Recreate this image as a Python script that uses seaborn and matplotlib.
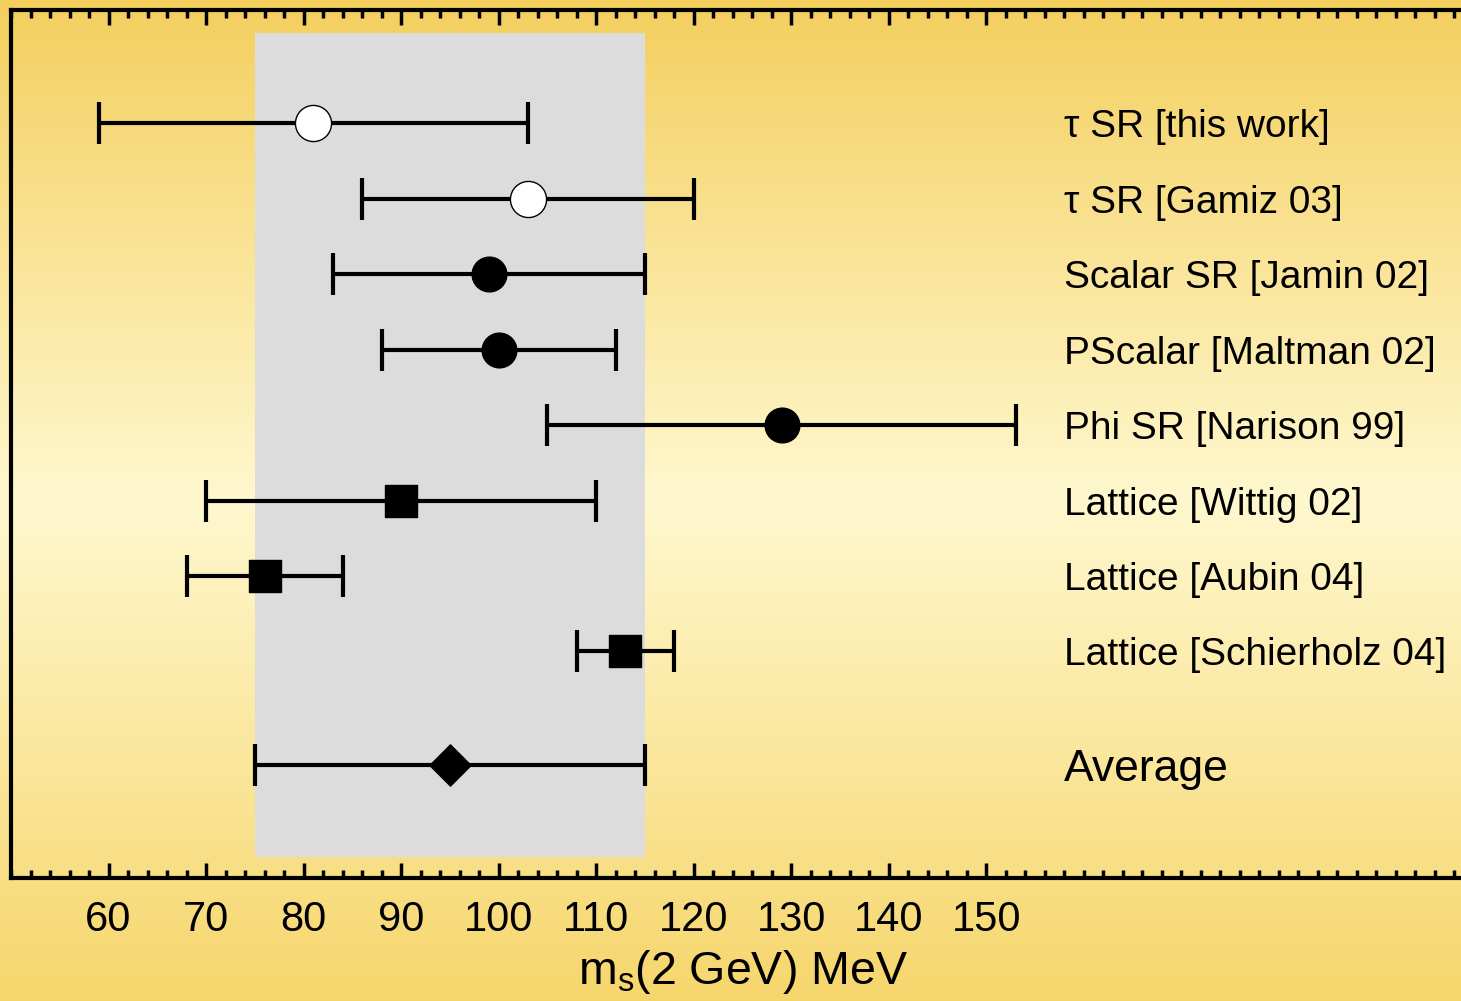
import matplotlib
matplotlib.use("Agg")
import matplotlib.pyplot as plt
import numpy as np
import pandas as pd
import seaborn as sns
from matplotlib.colors import LinearSegmentedColormap
from matplotlib.ticker import FixedLocator, MultipleLocator

# strange-quark mass determinations, ms(2 GeV) in MeV
LABELS = [
    "\u03c4 SR [this work]", "\u03c4 SR [Gamiz 03]", "Scalar SR [Jamin 02]",
    "PScalar [Maltman 02]", "Phi SR [Narison 99]", "Lattice [Wittig 02]",
    "Lattice [Aubin 04]", "Lattice [Schierholz 04]", "Average",
]
CENTRAL = [81, 103, 99, 100, 129, 90, 76, 113, 95]
LOWER = [59, 86, 83, 88, 105, 70, 68, 108, 75]
UPPER = [103, 120, 115, 112, 153, 110, 84, 118, 115]
ROW_Y = [8, 7, 6, 5, 4, 3, 2, 1, -0.5]
KIND = ["open", "open", "circle", "circle", "circle", "square", "square", "square", "diamond"]
BAND = (75, 115)
XTICKS = [60, 70, 80, 90, 100, 110, 120, 130, 140, 150]

df = pd.DataFrame({"label": LABELS, "ms": CENTRAL, "lo": LOWER, "hi": UPPER,
                   "y": ROW_Y, "kind": KIND})

sns.set_theme(style="ticks")
plt.rcParams["font.family"] = ["Liberation Sans", "DejaVu Sans"]
plt.rcParams["mathtext.fontset"] = "custom"
plt.rcParams["mathtext.rm"] = "Liberation Sans"
plt.rcParams["mathtext.it"] = "Liberation Sans"
plt.rcParams["text.color"] = "black"
plt.rcParams["axes.labelcolor"] = "black"
plt.rcParams["xtick.labelcolor"] = "black"

fig = plt.figure(figsize=(14.61, 10.01), dpi=100)

# gold-to-pale vertical gradient behind everything
bg = fig.add_axes([0, 0, 1, 1], zorder=-5)
cmap = LinearSegmentedColormap.from_list(
    "gold", [(0.0, "#f6d66c"), (0.5, "#fff8cf"), (1.0, "#f4cf5e")])
bg.imshow(np.linspace(0, 1, 256).reshape(-1, 1), cmap=cmap, aspect="auto",
          extent=[0, 1, 0, 1], origin="lower")
bg.axis("off")

ax = fig.add_axes([11 / 1461, 0.123, 1463 / 1461, 0.867])
ax.patch.set_alpha(0)
ax.set_xlim(50, 200)
ax.set_ylim(-2, 9.5)

ax.fill_between(list(BAND), -1.72, 9.2, color="#dcdcdc", lw=0, zorder=1)

ax.errorbar(df["ms"], df["y"], xerr=[df["ms"] - df["lo"], df["hi"] - df["ms"]],
            fmt="none", ecolor="black", elinewidth=3, capsize=15, capthick=3, zorder=2)

styles = {
    "open": dict(marker="o", s=26 ** 2, color="white", edgecolor="black", linewidth=1),
    "circle": dict(marker="o", s=25 ** 2, color="black", edgecolor="black", linewidth=1),
    "square": dict(marker="s", s=23 ** 2, color="black", edgecolor="black", linewidth=1),
    "diamond": dict(marker="D", s=21 ** 2, color="black", edgecolor="black", linewidth=1),
}
for kind, opts in styles.items():
    sub = df[df["kind"] == kind]
    sns.scatterplot(data=sub, x="ms", y="y", ax=ax, legend=False, zorder=3, **opts)

for _, row in df.iterrows():
    size = 32 if row["kind"] == "diamond" else 28
    ax.text(158, row["y"], row["label"], fontsize=size, va="center_baseline", ha="left",
            color="black")

for side in ["top", "bottom", "left", "right"]:
    ax.spines[side].set_linewidth(3)
    ax.spines[side].set_color("black")
ax.xaxis.set_major_locator(FixedLocator(XTICKS))
ax.xaxis.set_minor_locator(MultipleLocator(2))
ax.set_yticks([])
ax.tick_params(axis="x", which="both", direction="in", top=True, bottom=True,
               color="black", width=2.5)
ax.tick_params(axis="x", which="major", length=11, labelsize=30, pad=16)
ax.tick_params(axis="x", which="minor", length=6)
ax.set_xlabel(r"m$_\mathregular{s}$(2 GeV) MeV", fontsize=33.5, labelpad=6)
ax.set_ylabel("")

fig.savefig("out.png", dpi=100)
